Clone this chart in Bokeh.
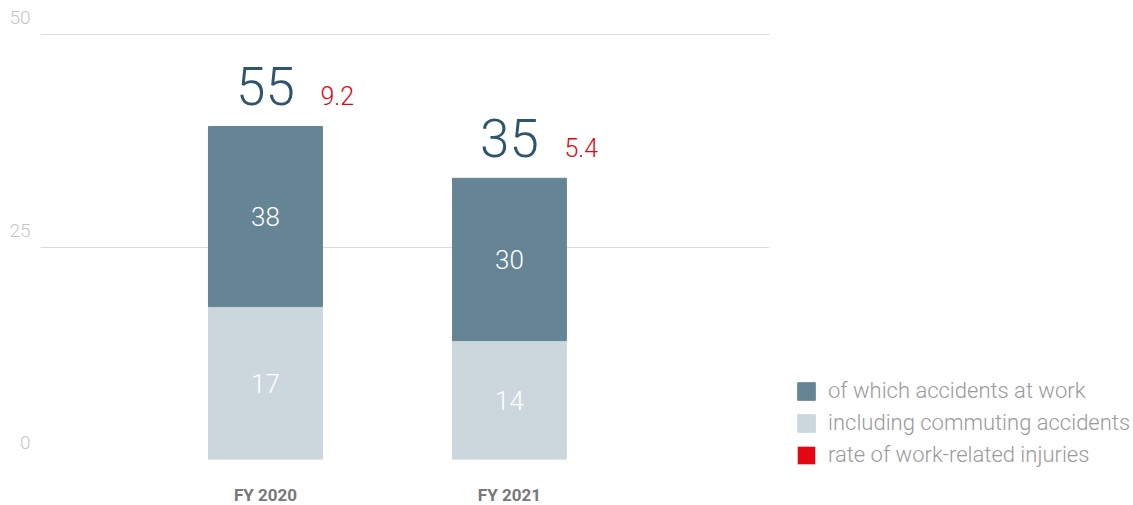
from bokeh.plotting import figure
from bokeh.models import (Range1d, LinearAxis, FixedTicker, Grid, Legend,
                          LegendItem, ColumnDataSource)
from bokeh.core.properties import value
from bokeh.embed import file_html
from bokeh.resources import INLINE

# ---- data ----
categories = ["FY 2020", "FY 2021"]
# bar heights as drawn against the 0-25-50 axis
commuting_heights = [18.0, 14.0]
work_heights = [21.2, 19.1]
# printed values
commuting_labels = ["17", "14"]
work_labels = ["38", "30"]
total_labels = ["55", "35"]
rate_labels = ["9.2", "5.4"]
y_ticks = [0, 25, 50]
legend_labels = ["of which accidents at work",
                 "including commuting accidents",
                 "rate of work-related injuries"]

DARK = "#658595"
LIGHT = "#cbd7dc"
RED = "#e30613"
NAVY = "#2f556b"
LIGHTFONT = "Roboto Light"

xs = list(range(len(categories)))
tops = [c + w for c, w in zip(commuting_heights, work_heights)]
src = ColumnDataSource(dict(
    x=xs,
    c=commuting_heights,
    top=tops,
    cmid=[c / 2 for c in commuting_heights],
    wmid=[c + w / 2 for c, w in zip(commuting_heights, work_heights)],
    clab=commuting_labels,
    wlab=work_labels,
    tot=total_labels,
    rate=rate_labels,
))

p = figure(frame_width=729, frame_height=446,
           x_range=Range1d(-0.922, 2.066), y_range=Range1d(0, 52.5),
           output_backend="svg", toolbar_location=None,
           y_axis_location=None,
           min_border_left=40, min_border_right=364,
           min_border_top=13, min_border_bottom=45,
           outline_line_color=None)
p.grid.grid_line_color = None

# grid lines on the main range
p.add_layout(Grid(dimension=1, ticker=FixedTicker(ticks=y_ticks),
                  grid_line_color="#dcdcdc", grid_line_width=1))

# tick labels sit above their grid lines: use a shifted range
p.extra_y_ranges = {"lab": Range1d(-2, 50.5)}
yax = LinearAxis(y_range_name="lab", ticker=FixedTicker(ticks=y_ticks),
                 axis_line_color=None, major_tick_line_color=None,
                 minor_tick_line_color=None, major_tick_out=0, major_tick_in=0,
                 major_label_standoff=10,
                 major_label_text_font_size="19px",
                 major_label_text_color="#c6c6c6",
                 major_label_text_font=LIGHTFONT)
p.add_layout(yax, "left")

xa = p.xaxis[0]
xa.ticker = FixedTicker(ticks=xs)
xa.major_label_overrides = {i: c for i, c in zip(xs, categories)}
xa.axis_line_color = None
xa.major_tick_line_color = None
xa.minor_tick_line_color = None
xa.major_tick_out = 0
xa.major_tick_in = 0
xa.major_label_standoff = 25
xa.major_label_text_font_size = "17px"
xa.major_label_text_font_style = "bold"
xa.major_label_text_color = "#787878"
xa.major_label_text_font = "Roboto"

BW = 0.467
r_light = p.vbar(x="x", bottom=0, top="c", width=BW, color=LIGHT, source=src)
r_dark = p.vbar(x="x", bottom="c", top="top", width=BW, color=DARK, source=src)
# legend swatch for the red rate values (draws nothing on the plot)
r_red = p.vbar(x=xs, bottom=[0] * len(xs), top=[0] * len(xs), width=0,
               fill_color=RED, line_color=None)

p.text(x="x", y="cmid", text="clab", source=src, text_align="center",
       text_baseline="middle", text_color="white", text_font_size="26px",
       text_font=value(LIGHTFONT))
p.text(x="x", y="wmid", text="wlab", source=src, text_align="center",
       text_baseline="middle", text_color="white", text_font_size="26px",
       text_font=value(LIGHTFONT))
p.text(x="x", y="top", text="tot", source=src, text_align="center",
       text_baseline="middle", y_offset=-40, text_color=NAVY,
       text_font_size="53px", text_font=value(LIGHTFONT))
p.text(x="x", y="top", text="rate", source=src, text_align="left",
       text_baseline="middle", x_offset=55, y_offset=-31, text_color=RED,
       text_font_size="25px", text_font=value(LIGHTFONT))

legend = Legend(items=[LegendItem(label=legend_labels[0], renderers=[r_dark]),
                       LegendItem(label=legend_labels[1], renderers=[r_light]),
                       LegendItem(label=legend_labels[2], renderers=[r_red])],
                location=(26, -8), orientation="vertical",
                glyph_width=22, glyph_height=22, label_standoff=11,
                label_height=20, spacing=7,
                label_text_font_size="22px", label_text_color="#9a9a9a",
                label_text_font=LIGHTFONT,
                border_line_color=None, background_fill_alpha=0,
                padding=0, margin=0)
p.add_layout(legend, "right")

open("out.html", "w").write(file_html(p, INLINE))
